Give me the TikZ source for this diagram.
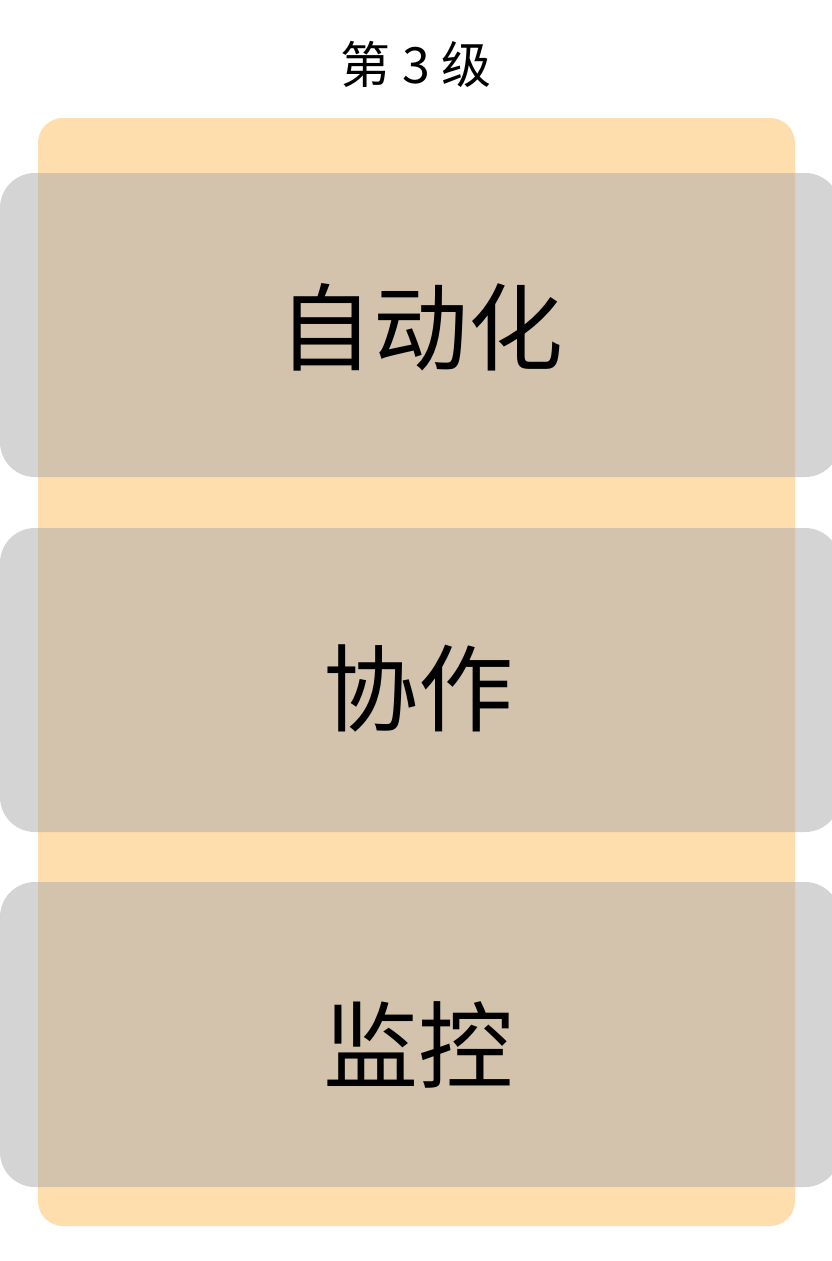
\documentclass[tikz,border=0pt]{standalone}
\usepackage{fontspec}
\newfontfamily\cjk{Noto Sans CJK SC}
\definecolor{lvlorange}{HTML}{FFDEAD}
\definecolor{boxgray}{HTML}{AAAAAC}
\tikzset{
  panel/.style={fill=lvlorange, draw=none, rounded corners=25pt},
  band/.style={fill=boxgray, fill opacity=0.5, draw=none, rounded corners=35pt},
  bigtext/.style={font=\cjk\fontsize{95}{105}\selectfont, text=black},
  titletext/.style={font=\cjk\fontsize{50}{58}\selectfont, text=black}
}
\begin{document}
\begin{tikzpicture}[x=1pt,y=-1pt]
\useasboundingbox (0,0) rectangle (832,1261);
\fill[white] (0,0) rectangle (832,1261);
\node[titletext] (title) at (416,64) {第 3 级};
\path[panel] (38,118) rectangle (795,1226);
\path[band] (0,173) rectangle (840,477);
\path[band] (0,528) rectangle (840,832);
\path[band] (0,882) rectangle (840,1187);
\node[bigtext] (a) at (421,327) {自动化};
\node[bigtext] (b) at (418,688) {协作};
\node[bigtext] (c) at (418,1045) {监控};
\end{tikzpicture}
\end{document}
